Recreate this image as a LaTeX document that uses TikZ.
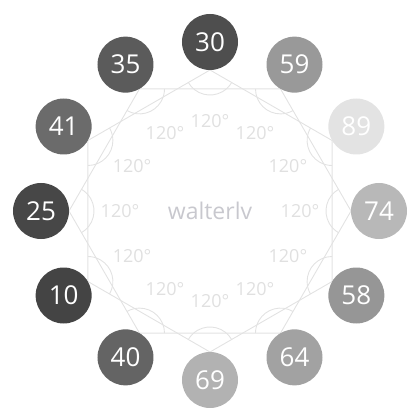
\documentclass[tikz,border=0pt]{standalone}
\usepackage{fontspec}
\setmainfont{Open Sans}
\definecolor{linegray}{HTML}{E2E2E2}
\definecolor{labelgray}{HTML}{E0E0E0}
\definecolor{namegray}{HTML}{C8C8CE}

\begin{document}
\begin{tikzpicture}[x=1pt, y=1pt,
  ball/.style={circle, minimum size=56pt, inner sep=0pt, text=white, font=\fontsize{26}{26}\selectfont},
  guide/.style={draw=linegray, line width=0.9pt},
  anglabel/.style={text=labelgray, font=\fontsize{18}{18}\selectfont}]
  \useasboundingbox (-210,-209) rectangle (210,211);
  % corners of the two hexagons
  \foreach \i in {1,...,12} {
    \coordinate (v\i) at ({120-30*\i}:141);
  }
  \draw[guide] (v1) -- (v3) -- (v5) -- (v7) -- (v9) -- (v11) -- cycle;
  \draw[guide] (v2) -- (v4) -- (v6) -- (v8) -- (v10) -- (v12) -- cycle;
  % angle marks
  \foreach \i in {1,...,12} {
    \pgfmathsetmacro\ang{120-30*\i}
    \draw[guide] (v\i) ++(\ang+120:25) arc[start angle=\ang+120, end angle=\ang+240, radius=25];
    \node[anglabel] (a\i) at (\ang:90) {120°};
  }
  \node[text=namegray, font=\fontsize{23}{23}\selectfont] (name) at (0,0) {walterlv};
  % numbered balls
  \foreach \v/\g [count=\i] in {30/4E4E4E, 59/999999, 89/E3E3E3, 74/B8B8B8, 58/969696, 64/A2A2A2,
      69/B2B2B2, 40/646464, 10/444444, 25/474747, 41/6B6B6B, 35/5B5B5B} {
    \definecolor{ballfill}{HTML}{\g}
    \node[ball, fill=ballfill] (n\i) at ({120-30*\i}:169) {\v};
  }
\end{tikzpicture}
\end{document}
